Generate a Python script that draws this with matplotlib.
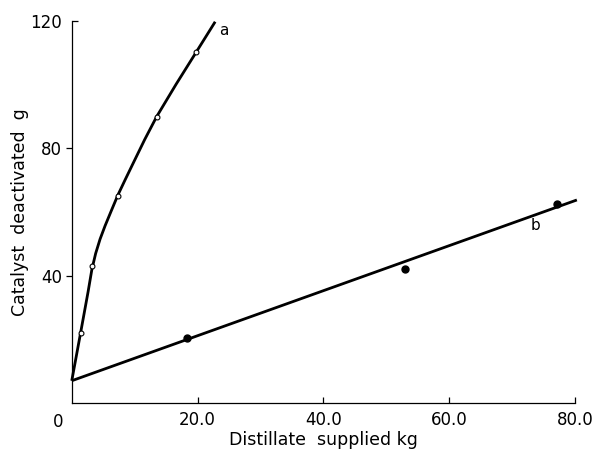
import matplotlib
matplotlib.use("Agg")
import matplotlib.pyplot as plt
import matplotlib.transforms as mtransforms

# Curve a: drawn through-line, and the measured (open) points
curve_a_x = [0, 1.4, 2.6, 3.2, 3.8, 4.5, 5.3, 6.2, 7.3, 8.5, 9.8, 11.6,
             13.5, 16.6, 19.8, 22.8]
curve_a_y = [7, 22, 35, 42, 47, 51.5, 55.7, 60, 65.2, 70.2, 75.5, 82.8,
             90, 100.2, 110.3, 119.8]
points_a_x = [1.4, 3.2, 7.3, 13.5, 19.8]
points_a_y = [22, 43, 65.2, 90, 110.3]

# Line b: straight fit, and the measured (filled) points
line_b_x = [0, 80.3]
line_b_y = [7, 63.8]
points_b_x = [18.4, 52.9, 77.1]
points_b_y = [20.4, 42.1, 62.6]

x_ticks = [20, 40, 60, 80]
x_tick_labels = ["20.0", "40.0", "60.0", "80.0"]
y_ticks = [40, 80]
y_tick_labels = ["40", "80"]

plt.rcParams["font.family"] = ["DejaVu Sans"]

fig = plt.figure(figsize=(5.98, 4.49), dpi=100)
ax = fig.add_axes([0.120, 0.1024, 0.8415, 0.8506])

ax.plot(curve_a_x, curve_a_y, color="black", lw=2.0, clip_on=False,
        solid_capstyle="butt", solid_joinstyle="round", zorder=2)
ax.plot(line_b_x, line_b_y, color="black", lw=2.0, clip_on=False,
        solid_capstyle="butt", zorder=2)
ax.plot(points_a_x, points_a_y, "o", ms=3.5, mfc="white", mec="black",
        mew=0.8, clip_on=False, zorder=3)
ax.plot(points_b_x, points_b_y, "o", ms=5, color="black", clip_on=False,
        zorder=3)

ax.text(23.4, 117, "a", fontsize=11, ha="left", va="center")
ax.text(73.8, 55.7, "b", fontsize=11, ha="center", va="center")

ax.set_xlim(0, 80)
ax.set_ylim(0, 120)

for side in ("top", "right"):
    ax.spines[side].set_visible(False)
for side in ("left", "bottom"):
    ax.spines[side].set_linewidth(0.9)

ax.set_xticks(x_ticks, labels=x_tick_labels)
ax.set_yticks(y_ticks, labels=y_tick_labels)
ax.set_yticks([120], labels=["120"], minor=True)
ax.tick_params(axis="x", direction="in", length=4, width=0.9, pad=6,
               labelsize=12)
ax.tick_params(axis="y", which="major", direction="out", length=4,
               width=0.9, pad=3, labelsize=12)
ax.tick_params(axis="y", which="minor", direction="in", length=4,
               width=0.9, pad=7, labelsize=12)

# Origin label sits below and left of the corner
trans = mtransforms.blended_transform_factory(ax.transData, ax.transAxes)
ax.text(-2.2, -0.025, "0", transform=trans, fontsize=12, ha="center",
        va="top")

ax.set_xlabel("Distillate  supplied kg", fontsize=12.5, labelpad=1)
ax.set_ylabel("Catalyst  deactivated  g", fontsize=12.5, labelpad=1)

fig.savefig("out.png", dpi=100)
